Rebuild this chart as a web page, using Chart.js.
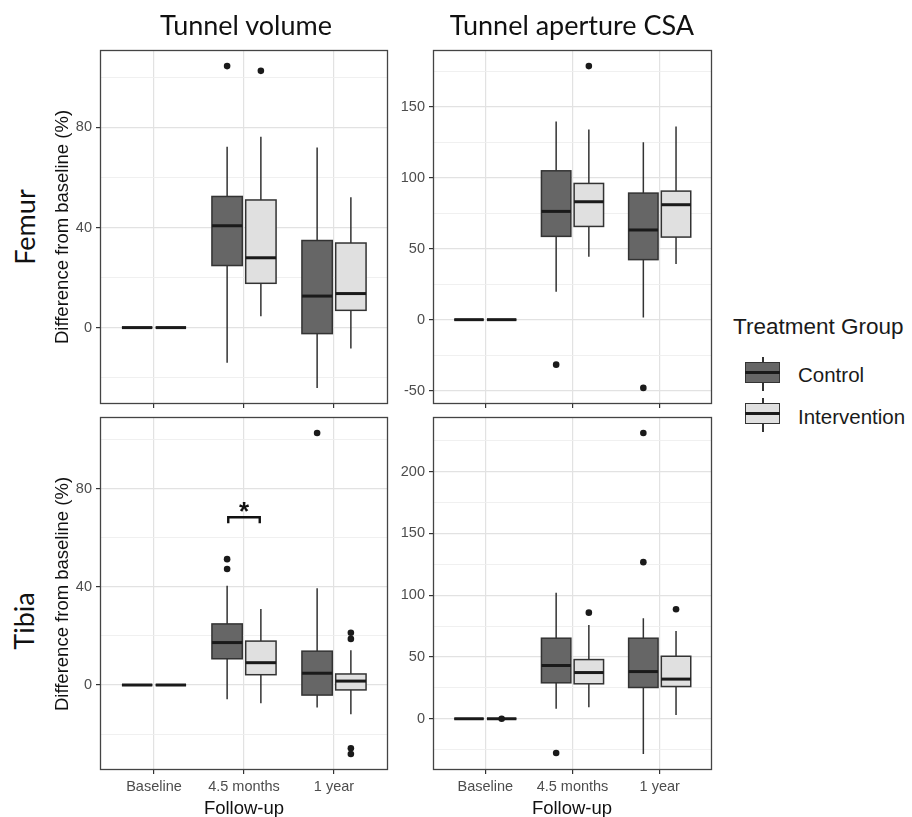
<!DOCTYPE html>
<html>
<head>
<meta charset="utf-8">
<script src="https://cdn.jsdelivr.net/npm/chart.js@4.4.1/dist/chart.umd.min.js"></script>
<style>
  body { margin: 0; background: #fff; }
  #page { position: relative; width: 912px; height: 817px; overflow: hidden; background: #fff;
          font-family: "Liberation Sans", Arial, sans-serif; }
  canvas { position: absolute; }
  .txt { position: absolute; white-space: nowrap; line-height: 1; }
  .c { transform: translate(-50%, -50%); }
  .rot { transform: translate(-50%, -50%) rotate(-90deg); }
  .left { transform: translate(0, -50%); }
  .title { font-family: Lato, "Liberation Sans", sans-serif; font-size: 27px; color: #111; }
  .axis-title { font-size: 18.5px; color: #111; }
  .legend-title { font-size: 22.5px; color: #1a1a1a; }
  .legend-label { font-size: 20.5px; color: #1a1a1a; }
  .key-part { position: absolute; box-sizing: border-box; }
</style>
</head>
<body>
<div id="page">
  <canvas id="femurVolume" width="332" height="384" style="left:60px; top:34px"></canvas>
  <canvas id="femurCsa" width="328" height="384" style="left:388px; top:34px"></canvas>
  <canvas id="tibiaVolume" width="332" height="401" style="left:60px; top:401px"></canvas>
  <canvas id="tibiaCsa" width="328" height="401" style="left:388px; top:401px"></canvas>

  <div class="txt c title" style="left:246px; top:24px">Tunnel volume</div>
  <div class="txt c title" style="left:572px; top:24px">Tunnel aperture CSA</div>
  <div class="txt rot title" style="left:24px; top:227px">Femur</div>
  <div class="txt rot title" style="left:23px; top:621px">Tibia</div>
  <div class="txt rot axis-title" style="left:62px; top:227px">Difference from baseline (%)</div>
  <div class="txt rot axis-title" style="left:62px; top:594px">Difference from baseline (%)</div>
  <div class="txt c axis-title" style="left:244px; top:808px">Follow-up</div>
  <div class="txt c axis-title" style="left:572px; top:808px">Follow-up</div>

  <div class="txt left legend-title" style="left:733px; top:327px">Treatment Group</div>
  <div class="key-part" style="left:762px; top:357px; width:1.6px; height:34px; background:#333"></div>
  <div class="key-part" style="left:745px; top:362px; width:35px; height:21px; background:#666; border:1.6px solid #333"></div>
  <div class="key-part" style="left:745px; top:371px; width:35px; height:2.8px; background:#1a1a1a"></div>
  <div class="txt left legend-label" style="left:798px; top:375px">Control</div>
  <div class="key-part" style="left:762px; top:398px; width:1.6px; height:34px; background:#333"></div>
  <div class="key-part" style="left:745px; top:403px; width:35px; height:21px; background:#e0e0e0; border:1.6px solid #333"></div>
  <div class="key-part" style="left:745px; top:412px; width:35px; height:2.8px; background:#1a1a1a"></div>
  <div class="txt left legend-label" style="left:798px; top:417px">Intervention</div>
</div>

<script>
// ---- data ----
const categories = ['Baseline', '4.5 months', '1 year'];
const groups = ['Control', 'Intervention'];

// each row: [lower whisker, Q1, median, Q3, upper whisker] per follow-up category
const femurVolumeControl = [[0, 0, 0, 0, 0], [-14, 24.8, 40.7, 52.4, 72.3], [-24.1, -2.4, 12.6, 34.8, 72]];
const femurVolumeIntervention = [[0, 0, 0, 0, 0], [4.5, 17.7, 27.9, 51, 76.3], [-8.4, 6.9, 13.6, 33.8, 52.1]];
const femurVolumeOutControl = [[], [104.5], []];
const femurVolumeOutIntervention = [[], [102.6], []];
const femurVolumeTicks = [-40, 0, 40, 80, 120];

const femurCsaControl = [[0, 0, 0, 0, 0], [19.7, 58.7, 76.3, 104.9, 139.7], [1.6, 42.3, 63.2, 89.2, 125.1]];
const femurCsaIntervention = [[0, 0, 0, 0, 0], [44.4, 65.7, 83.1, 96, 134], [39.2, 58.2, 81, 90.6, 136.1]];
const femurCsaOutControl = [[], [-31.7], [-48.1]];
const femurCsaOutIntervention = [[], [178.7], []];
const femurCsaTicks = [-50, 0, 50, 100, 150, 200];

const tibiaVolumeControl = [[0, 0, 0, 0, 0], [-5.8, 10.7, 17.3, 24.9, 40.5], [-9.2, -4.1, 4.8, 13.8, 39.4]];
const tibiaVolumeIntervention = [[0, 0, 0, 0, 0], [-7.4, 4.2, 9.1, 17.9, 31], [-11.9, -2, 1.6, 4.5, 14.2]];
const tibiaVolumeOutControl = [[], [51.3, 47.3], [102.7]];
const tibiaVolumeOutIntervention = [[], [], [21.3, 18.8, -25.8, -28.1]];
const tibiaVolumeTicks = [-40, 0, 40, 80, 120];
const tibiaVolumeBracketX = [1.825, 2.175];
const tibiaVolumeBracketY = [65.9, 68.4];
const tibiaVolumeBracketLabel = '*';

const tibiaCsaControl = [[0, 0, 0, 0, 0], [8.1, 29.1, 43.1, 65.2, 102], [-28.5, 25.3, 38.2, 65.2, 81.3]];
const tibiaCsaIntervention = [[0, 0, 0, 0, 0], [9.4, 28.3, 37.4, 47.9, 75.9], [3, 26.1, 32.1, 50.6, 71.1]];
const tibiaCsaOutControl = [[], [-27.7], [231.3, 126.8]];
const tibiaCsaOutIntervention = [[0], [85.9], [88.6]];
const tibiaCsaTicks = [-50, 0, 50, 100, 150, 200, 250];

// ---- styling ----
const fills = ['#666666', '#e0e0e0'];
const dodge = [-0.1875, 0.1875];
const boxWidth = 0.3375;
const tickFont = { family: 'Liberation Sans', size: 14.5 };

function boxPlugin(panel) {
  return {
    id: 'boxes',
    beforeDatasetsDraw(chart) {
      const { ctx, scales: { x, y } } = chart;
      const half = (x.getPixelForValue(1) - x.getPixelForValue(0)) * boxWidth / 2;
      ctx.save();
      panel.stats.forEach((series, g) => {
        series.forEach((s, i) => {
          const cx = x.getPixelForValue(i + 1 + dodge[g]);
          const [lo, q1, med, q3, hi] = s.map(v => y.getPixelForValue(v));
          ctx.strokeStyle = '#333';
          ctx.lineWidth = 1.5;
          ctx.beginPath();
          ctx.moveTo(cx, q3); ctx.lineTo(cx, hi);
          ctx.moveTo(cx, q1); ctx.lineTo(cx, lo);
          ctx.stroke();
          ctx.fillStyle = fills[g];
          ctx.fillRect(cx - half, q3, half * 2, q1 - q3);
          ctx.strokeRect(cx - half, q3, half * 2, q1 - q3);
          ctx.strokeStyle = '#1a1a1a';
          ctx.lineWidth = 3;
          ctx.beginPath();
          ctx.moveTo(cx - half, med); ctx.lineTo(cx + half, med);
          ctx.stroke();
        });
      });
      ctx.restore();
    },
    afterDatasetsDraw(chart) {
      const { ctx, chartArea: a, scales: { x, y } } = chart;
      ctx.save();
      ctx.strokeStyle = '#444';
      ctx.lineWidth = 1.3;
      ctx.strokeRect(a.left + 0.5, a.top + 0.5, a.right - a.left - 1, a.bottom - a.top - 1);
      if (panel.bracketX) {
        const x0 = x.getPixelForValue(panel.bracketX[0]);
        const x1 = x.getPixelForValue(panel.bracketX[1]);
        const yTip = y.getPixelForValue(panel.bracketY[0]);
        const yTop = y.getPixelForValue(panel.bracketY[1]);
        ctx.strokeStyle = '#111';
        ctx.lineWidth = 2.4;
        ctx.beginPath();
        ctx.moveTo(x0, yTip); ctx.lineTo(x0, yTop); ctx.lineTo(x1, yTop); ctx.lineTo(x1, yTip);
        ctx.stroke();
        ctx.fillStyle = '#111';
        ctx.font = 'bold 26px "Liberation Sans"';
        ctx.textAlign = 'center';
        ctx.textBaseline = 'alphabetic';
        const m = ctx.measureText(panel.bracketLabel);
        const mid = (m.actualBoundingBoxAscent - m.actualBoundingBoxDescent) / 2;
        ctx.fillText(panel.bracketLabel, (x0 + x1) / 2, yTop - 10 + mid);
      }
      ctx.restore();
    }
  };
}

function makeChart(id, panel) {
  const all = [panel.stats, panel.outliers].flat(3);
  const lo = Math.min(...all), hi = Math.max(...all);
  const pad = (hi - lo) * 0.05;
  const yMin = lo - pad, yMax = hi + pad;
  const majors = panel.ticks;
  const minors = majors.slice(1).map((v, i) => (v + majors[i]) / 2);
  const yTicks = majors.concat(minors).filter(v => v >= yMin && v <= yMax).sort((a, b) => a - b);
  const isMajor = v => majors.includes(v);

  const datasets = groups.map((name, g) => ({
    label: name,
    data: panel.outliers[g].flatMap((vals, i) => vals.map(v => ({ x: i + 1 + dodge[g], y: v }))),
    pointRadius: 3.3,
    pointBackgroundColor: '#1a1a1a',
    pointBorderWidth: 0
  }));

  return new Chart(document.getElementById(id), {
    type: 'scatter',
    data: { datasets },
    plugins: [boxPlugin(panel)],
    options: {
      responsive: false,
      devicePixelRatio: 1,
      animation: false,
      events: [],
      layout: { padding: { top: 16, right: 4, left: 0, bottom: 0 } },
      plugins: { legend: { display: false }, tooltip: { enabled: false } },
      scales: {
        x: {
          type: 'linear',
          min: 0.4,
          max: 3.6,
          afterBuildTicks: s => { s.ticks = categories.map((c, i) => ({ value: i + 1 })); },
          afterFit: s => { s.height = panel.showX ? 32 : 14; },
          grid: { color: '#e2e2e2', lineWidth: 1.2, tickColor: '#333', tickLength: 4 },
          border: { display: false },
          ticks: {
            display: panel.showX,
            font: tickFont,
            color: '#4d4d4d',
            padding: 4,
            maxRotation: 0,
            callback: v => categories[v - 1]
          }
        },
        y: {
          min: yMin,
          max: yMax,
          afterBuildTicks: s => { s.ticks = yTicks.map(v => ({ value: v })); },
          afterFit: s => { s.width = panel.axisWidth; },
          grid: {
            color: c => (c.tick && isMajor(c.tick.value) ? '#e2e2e2' : '#eeeeee'),
            lineWidth: c => (c.tick && isMajor(c.tick.value) ? 1.2 : 0.9),
            tickColor: c => (c.tick && isMajor(c.tick.value) ? '#333' : 'rgba(0,0,0,0)'),
            tickLength: 4
          },
          border: { display: false },
          ticks: {
            font: tickFont,
            color: '#4d4d4d',
            padding: 4,
            callback: v => (isMajor(v) ? String(v) : '')
          }
        }
      }
    }
  });
}

makeChart('femurVolume', {
  stats: [femurVolumeControl, femurVolumeIntervention],
  outliers: [femurVolumeOutControl, femurVolumeOutIntervention],
  ticks: femurVolumeTicks, axisWidth: 40, showX: false
});
makeChart('femurCsa', {
  stats: [femurCsaControl, femurCsaIntervention],
  outliers: [femurCsaOutControl, femurCsaOutIntervention],
  ticks: femurCsaTicks, axisWidth: 45, showX: false
});
makeChart('tibiaVolume', {
  stats: [tibiaVolumeControl, tibiaVolumeIntervention],
  outliers: [tibiaVolumeOutControl, tibiaVolumeOutIntervention],
  ticks: tibiaVolumeTicks, axisWidth: 40, showX: true,
  bracketX: tibiaVolumeBracketX, bracketY: tibiaVolumeBracketY, bracketLabel: tibiaVolumeBracketLabel
});
makeChart('tibiaCsa', {
  stats: [tibiaCsaControl, tibiaCsaIntervention],
  outliers: [tibiaCsaOutControl, tibiaCsaOutIntervention],
  ticks: tibiaCsaTicks, axisWidth: 45, showX: true
});
</script>
</body>
</html>
